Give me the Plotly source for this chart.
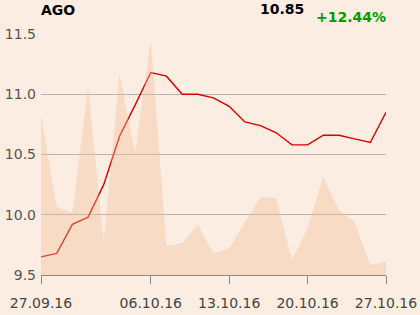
import plotly.graph_objects as go

dates = ["27.09.16","28.09.16","29.09.16","30.09.16","03.10.16","04.10.16","05.10.16",
         "06.10.16","07.10.16","10.10.16","11.10.16","12.10.16","13.10.16","14.10.16",
         "17.10.16","18.10.16","19.10.16","20.10.16","21.10.16","24.10.16","25.10.16",
         "26.10.16","27.10.16"]
price = [9.65, 9.68, 9.92, 9.98, 10.25, 10.65, 10.91, 11.18, 11.15, 11.00, 11.00, 10.97,
         10.90, 10.77, 10.74, 10.68, 10.58, 10.58, 10.66, 10.66, 10.63, 10.60, 10.85]
volume = [160, 68, 62, 188, 33, 202, 122, 235, 29, 32, 50, 22, 27, 53, 78, 77, 15, 47,
          98, 65, 53, 10, 13]
tick_dates = ["27.09.16", "06.10.16", "13.10.16", "20.10.16", "27.10.16"]
y_ticks = [9.5, 10.0, 10.5, 11.0, 11.5]

idx = list(range(len(dates)))
tick_idx = [dates.index(d) for d in tick_dates]

BG = "#FBEDE1"
FONT = "DejaVu Sans"

fig = go.Figure()
fig.add_trace(go.Scatter(x=idx, y=volume, yaxis="y2", mode="lines", line=dict(width=0),
                         fill="tozeroy", fillcolor="rgba(242,190,150,0.38)",
                         hoverinfo="skip", showlegend=False))
fig.add_trace(go.Scatter(x=idx, y=price, mode="lines",
                         line=dict(color="#D40000", width=1.4), showlegend=False))

fig.update_layout(
    width=420, height=315,
    margin=dict(l=41, r=34, t=34, b=40),
    paper_bgcolor=BG, plot_bgcolor=BG,
    font=dict(family=FONT, size=14, color="#555555"),
    xaxis=dict(range=[0, len(dates) - 1], tickvals=tick_idx, ticktext=tick_dates,
               automargin=False, ticklabelstandoff=7,
               showgrid=False, zeroline=False, showline=True, linecolor="#8c8c8c",
               linewidth=1, ticks="outside", ticklen=8, tickcolor="#8c8c8c",
               tickfont=dict(size=14, color="#444444")),
    yaxis=dict(range=[9.5, 11.5], tickvals=y_ticks, tickformat=".1f", automargin=False,
               ticklabelstandoff=4,
               showgrid=True, gridcolor="#b4b4b4", gridwidth=1, zeroline=False,
               ticks="", tickfont=dict(size=14, color="#555555")),
    yaxis2=dict(overlaying="y", range=[0, 241], visible=False, showgrid=False),
    annotations=[
        dict(text="<b>AGO</b>", xref="paper", yref="paper", x=-2 / 345, y=(275 - 10) / 241,
             xanchor="left", yanchor="middle", showarrow=False,
             font=dict(family=FONT, size=14, color="#000000")),
        dict(text="<b>%.2f</b>" % price[-1], xref="paper", yref="paper",
             x=(306 - 41) / 345, y=(275 - 9) / 241, xanchor="right", yanchor="middle",
             showarrow=False, font=dict(family=FONT, size=14, color="#000000")),
        dict(text="<b>%+.2f%%</b>" % ((price[-1] / price[0] - 1) * 100),
             xref="paper", yref="paper", x=(388 - 41) / 345, y=(275 - 16.5) / 241,
             xanchor="right", yanchor="middle", showarrow=False,
             font=dict(family=FONT, size=14, color="#009900")),
    ],
)

fig.write_html("out.html")
